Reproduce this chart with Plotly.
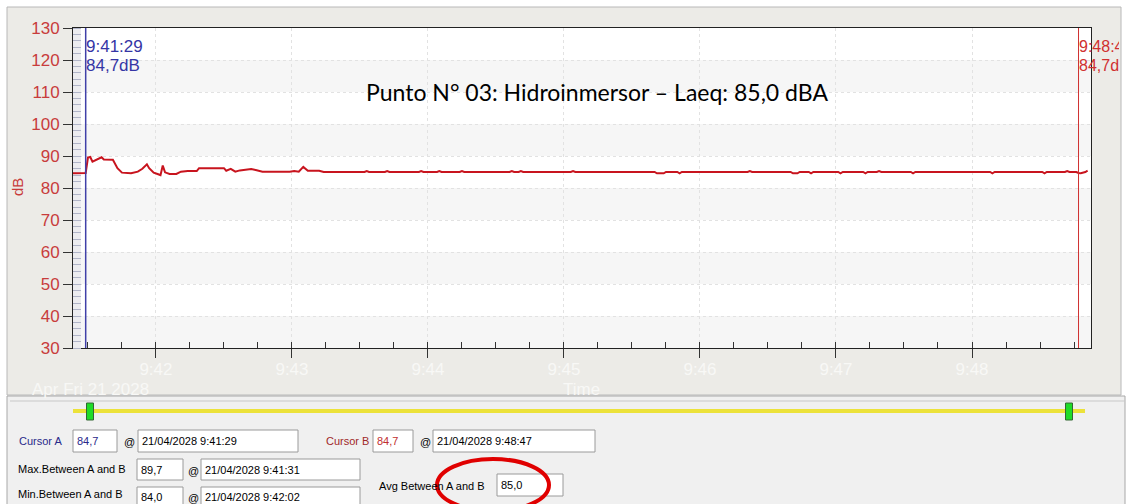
import plotly.graph_objects as go

# ---------------- data ----------------
DAY = "2028-04-21 "
times = ["09:41:23","09:41:28","09:41:29","09:41:30","09:41:31","09:41:32","09:41:34","09:41:36",
         "09:41:37","09:41:40","09:41:41","09:41:43","09:41:45","09:41:49","09:41:52","09:41:54",
         "09:41:56","09:41:57","09:41:59","09:42:01","09:42:02","09:42:03","09:42:04","09:42:06",
         "09:42:09","09:42:11","09:42:14","09:42:18","09:42:19","09:42:30","09:42:31","09:42:33",
         "09:42:35","09:42:37","09:42:42","09:42:44","09:42:47","09:42:59","09:43:01","09:43:03",
         "09:43:05","09:43:07","09:43:12","09:43:14","09:43:32","09:43:33","09:43:34","09:43:41",
         "09:43:42","09:43:43","09:43:56","09:43:57","09:43:58","09:44:04","09:44:05","09:44:06",
         "09:44:14","09:44:15","09:44:16","09:44:36","09:44:37","09:44:38","09:44:40","09:44:41",
         "09:44:42","09:45:03","09:45:04","09:45:05","09:45:40","09:45:41","09:45:44","09:45:45",
         "09:45:50","09:45:51","09:45:52","09:46:21","09:46:22","09:46:23","09:46:40","09:46:41",
         "09:46:43","09:46:44","09:46:48","09:46:49","09:46:50","09:47:01","09:47:02","09:47:03",
         "09:47:12","09:47:13","09:47:14","09:47:18","09:47:19","09:47:20","09:47:33","09:47:34",
         "09:47:35","09:48:08","09:48:09","09:48:10","09:48:31","09:48:32","09:48:33","09:48:41",
         "09:48:42","09:48:43","09:48:46","09:48:47","09:48:48","09:48:50","09:48:51"]
levels = [84.6,84.6,84.7,89.5,89.7,88.2,89.0,89.6,
          88.9,89.0,88.8,86.2,84.8,84.6,85.1,86.0,
          87.4,86.2,84.8,84.3,84.0,87.0,84.9,84.4,
          84.4,85.1,85.3,85.3,86.2,86.2,85.4,86.0,
          85.1,85.5,85.9,85.6,85.1,85.1,85.3,85.1,
          86.6,85.4,85.4,85.0,85.0,85.3,85.0,85.0,
          85.3,85.0,85.0,85.3,85.0,85.0,85.3,85.0,
          85.0,85.3,85.0,85.0,85.3,85.0,85.0,85.3,
          85.0,85.0,85.3,85.0,85.0,84.6,84.6,85.0,
          85.0,84.6,85.0,85.0,85.3,85.0,85.0,84.6,
          84.6,85.0,85.0,84.6,85.0,85.0,84.6,85.0,
          85.0,84.6,85.0,85.0,85.3,85.0,85.0,84.6,
          85.0,85.0,84.6,85.0,85.0,84.6,85.0,85.0,
          85.3,85.0,85.0,84.7,84.6,85.0,85.4]

x_range = ["09:41:23.4", "09:48:52.5"]
y_range = [30, 130]
cursor_a_time, cursor_a_val = "09:41:29", "84,7"
cursor_b_time, cursor_b_val = "09:48:47", "84,7"
max_val, max_time = "89,7", "21/04/2028 9:41:31"
min_val, min_time = "84,0", "21/04/2028 9:42:02"
avg_val = "85,0"
title_text = "Punto N° 03: Hidroinmersor – Laeq: 85,0 dBA"
band_ranges = [(30, 40), (50, 60), (70, 80), (90, 100), (110, 120)]

# ---------------- geometry helpers ----------------
W, H = 1129, 504
L, R, T, B = 73, 1091, 28, 348


def px(x):
    return (x - L) / (R - L)


def py(y):
    return (B - y) / (B - T)


FONT_UI = "Liberation Sans, Arial, sans-serif"

fig = go.Figure()
fig.add_trace(go.Scatter(
    x=[DAY + t for t in times], y=levels, mode="lines",
    line=dict(color="#c8141e", width=2), showlegend=False, hoverinfo="skip"))

shapes = []
# textured area background
shapes.append(dict(type="rect", xref="paper", yref="paper", x0=px(7), x1=px(1121), y0=py(7), y1=py(395),
                   fillcolor="#ecebe7", line=dict(color="#b8b8b8", width=1), layer="below"))
# plot area white
shapes.append(dict(type="rect", xref="paper", yref="paper", x0=0, x1=1, y0=0, y1=1,
                   fillcolor="#ffffff", line=dict(width=0), layer="below"))
for a, b in band_ranges:
    shapes.append(dict(type="rect", xref="paper", yref="y", x0=0, x1=1, y0=a, y1=b,
                       fillcolor="#f6f6f6", line=dict(width=0), layer="below"))
# minor-tick strip on the left
shapes.append(dict(type="rect", xref="paper", yref="paper", x0=0, x1=px(81), y0=0, y1=1,
                   fillcolor="#ececf0", line=dict(width=0), layer="below"))
# bottom form panel
shapes.append(dict(type="rect", xref="paper", yref="paper", x0=px(7), x1=px(1125), y0=py(396), y1=py(506),
                   fillcolor="#f0f0f0", line=dict(color="#a8a8a8", width=1), layer="below"))
shapes.append(dict(type="line", xref="paper", yref="paper", x0=px(10), x1=px(1125), y0=py(401), y1=py(401),
                   line=dict(color="#c8c8c8", width=1), layer="below"))
# slider
shapes.append(dict(type="line", xref="paper", yref="paper", x0=px(73), x1=px(1085), y0=py(411), y1=py(411),
                   line=dict(color="#ece23a", width=4), layer="below"))
for cx in (90, 1069):
    shapes.append(dict(type="rect", xref="paper", yref="paper", x0=px(cx - 3.5), x1=px(cx + 3.5),
                       y0=py(403), y1=py(420), fillcolor="#1fdc28", line=dict(color="#336633", width=1),
                       layer="below"))

# form text boxes: (x0, x1, y0, y1)
boxes = [(73, 117, 430, 452), (138, 298, 430, 452), (373, 413, 430, 452), (433, 595, 430, 452),
         (137, 183, 459, 480), (201, 360, 459, 480), (137, 183, 487, 508), (201, 360, 487, 508),
         (497, 563, 474, 496)]
for x0, x1, y0, y1 in boxes:
    shapes.append(dict(type="rect", xref="paper", yref="paper", x0=px(x0), x1=px(x1), y0=py(y0), y1=py(y1),
                       fillcolor="#ffffff", line=dict(color="#9a9a9a", width=1), layer="below"))

# cursors
shapes.append(dict(type="line", xref="x", yref="paper", x0=DAY + cursor_a_time, x1=DAY + cursor_a_time,
                   y0=0, y1=1, line=dict(color="#4040a8", width=1.5), layer="above"))
shapes.append(dict(type="line", xref="x", yref="paper", x0=DAY + cursor_b_time, x1=DAY + cursor_b_time,
                   y0=0, y1=1, line=dict(color="#d03030", width=1), layer="above"))
# red ellipse
shapes.append(dict(type="circle", xref="paper", yref="paper", x0=px(437), x1=px(549), y0=py(459), y1=py(511),
                   line=dict(color="#e00000", width=4), layer="above"))

ann = []


def text(x, y, s, color="#000000", size=11, family=FONT_UI, xanchor="left", **kw):
    ann.append(dict(x=px(x), y=py(y), xref="paper", yref="paper", text=s, showarrow=False,
                    xanchor=xanchor, yanchor="middle", font=dict(color=color, size=size, family=family), **kw))


# title
text(597, 92, title_text, size=23, family="Lato, Open Sans, sans-serif", xanchor="center")
# cursor labels in plot
ann.append(dict(x=DAY + cursor_a_time, y=py(46), xref="x", yref="paper", text="9:41:29", showarrow=False,
                xanchor="left", yanchor="middle", xshift=-2,
                font=dict(color="#3535a5", size=17, family="Liberation Sans, Arial")))
ann.append(dict(x=DAY + cursor_a_time, y=py(65), xref="x", yref="paper", text="84,7dB", showarrow=False,
                xanchor="left", yanchor="middle", xshift=-2,
                font=dict(color="#3535a5", size=17, family="Liberation Sans, Arial")))
ann.append(dict(x=DAY + cursor_b_time, y=py(46), xref="x", yref="paper", text="9:48:47", showarrow=False,
                xanchor="left", yanchor="middle", xshift=-2, width=40, align="left",
                font=dict(color="#d03030", size=16, family="Liberation Sans, Arial")))
ann.append(dict(x=DAY + cursor_b_time, y=py(65), xref="x", yref="paper", text="84,7dB", showarrow=False,
                xanchor="left", yanchor="middle", xshift=-2, width=40, align="left",
                font=dict(color="#d03030", size=16, family="Liberation Sans, Arial")))
# y title
ann.append(dict(x=px(17), y=py(187), xref="paper", yref="paper", text="dB", showarrow=False, textangle=-90,
                xanchor="center", yanchor="middle",
                font=dict(color="#c83c3c", size=15, family="Liberation Sans, Arial")))
# faded x texts
text(90, 389, "Apr Fri 21 2028", color="#f8f8f6", size=17, family="Liberation Sans, Arial", xanchor="center")
text(581, 389, "Time", color="#f8f8f6", size=17, family="Liberation Sans, Arial", xanchor="center")

# form labels and values
text(17, 441, "Cursor A", color="#2a2a8a")
text(75, 441, cursor_a_val, color="#2a2a8a")
text(122, 442, "@")
text(140, 441, "21/04/2028 " + cursor_a_time.lstrip("0"))
text(324, 441, "Cursor B", color="#a02828")
text(375, 441, cursor_b_val, color="#c03030")
text(418, 442, "@")
text(435, 441, "21/04/2028 " + cursor_b_time.lstrip("0"))
text(16, 469, "Max.Between A and B")
text(139, 470, max_val)
text(186, 471, "@")
text(203, 470, max_time)
text(16, 494, "Min.Between A and B")
text(139, 497, min_val)
text(186, 498, "@")
text(203, 497, min_time)
text(377, 486, "Avg Between A and B")
text(499, 485, avg_val)

fig.update_layout(
    width=W, height=H,
    margin=dict(l=L, r=W - R, t=T, b=H - B, pad=0),
    paper_bgcolor="#ffffff", plot_bgcolor="rgba(0,0,0,0)",
    shapes=shapes, annotations=ann, showlegend=False,
    xaxis=dict(type="date", range=[DAY + x_range[0], DAY + x_range[1]],
               tick0=DAY + "09:41:00", dtick=60000, tickformat="%-H:%M",
               tickfont=dict(color="#f8f8f6", size=17, family="Liberation Sans, Arial"),
               ticklabelstandoff=-3,
               ticks="outside", ticklen=9, tickcolor="#333333",
               minor=dict(dtick=15000, tick0=DAY + "09:41:00", ticks="inside", ticklen=6, tickcolor="#333333",
                          showgrid=False),
               showgrid=True, gridcolor="#e2e2e2", griddash="dot", gridwidth=1,
               showline=True, linecolor="#222222", linewidth=1, mirror=True, zeroline=False),
    yaxis=dict(range=y_range, dtick=10, tick0=0,
               tickfont=dict(color="#c83c3c", size=17, family="Liberation Sans, Arial"),
               ticks="outside", ticklen=9, tickcolor="#333333",
               minor=dict(dtick=2, ticks="inside", ticklen=8, tickcolor="#b0b4c8", showgrid=False),
               showgrid=True, gridcolor="#e2e2e2", griddash="dot", gridwidth=1,
               showline=True, linecolor="#222222", linewidth=1, mirror=True, zeroline=False),
)

fig.write_html("out.html", config={"displayModeBar": False},
               post_script="document.body.style.margin='0';document.body.style.overflow='hidden';")
